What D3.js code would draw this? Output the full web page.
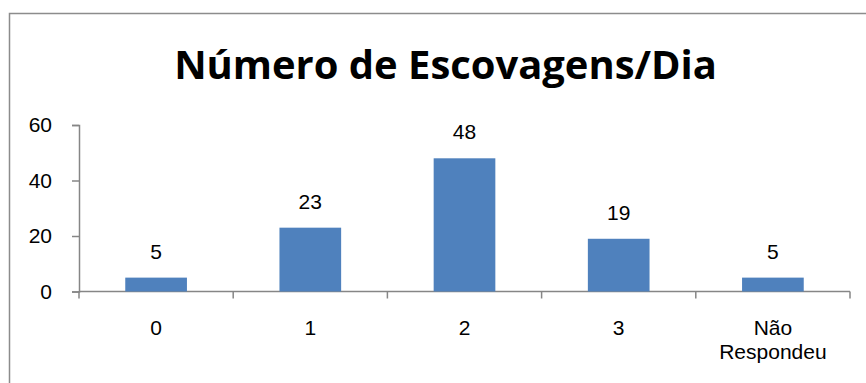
<!DOCTYPE html>
<html>
<head>
<meta charset="utf-8">
<script src="https://cdn.jsdelivr.net/npm/d3@7"></script>
<style>
  html, body { margin: 0; padding: 0; background: #fff; }
  svg { display: block; }
  text { font-family: "Liberation Sans", Arial, sans-serif; fill: #000; }
  text.title { font-family: "Open Sans", "Liberation Sans", sans-serif; }
</style>
</head>
<body>
<svg id="chart" width="866" height="383"></svg>
<script>
// Chart data
const title = "Número de Escovagens/Dia";
const categories = ["0", "1", "2", "3", "Não\nRespondeu"];
const values = [5, 23, 48, 19, 5];
const yTicks = [0, 20, 40, 60];

const W = 866, H = 383;
const plot = { left: 79, right: 850, top: 125, bottom: 291.5 };
const axisColor = "#868686";
const barColor = "#4F81BD";
const labelFont = "'Liberation Sans', Arial, sans-serif";

const svg = d3.select("#chart");

// Outer chart frame (only top and left edges fall inside the view)
svg.append("rect")
  .attr("x", 9.5).attr("y", 13.5)
  .attr("width", W + 20).attr("height", H + 20)
  .attr("fill", "#fff")
  .attr("stroke", "#8c8c8c").attr("stroke-width", 1.5);

// Title, fitted to its measured width
const t = svg.append("text")
  .attr("class", "title")
  .attr("x", (174 + 717) / 2).attr("y", 79)
  .attr("text-anchor", "middle")
  .style("font-weight", "bold")
  .style("font-size", "40px")
  .text(title);
const tw = t.node().getComputedTextLength();
t.style("font-size", (40 * 543 / tw).toFixed(2) + "px");

const x = d3.scaleBand()
  .domain(categories)
  .range([plot.left, plot.right])
  .paddingInner(0.6)
  .paddingOuter(0.3);

const y = d3.scaleLinear()
  .domain([0, 60])
  .range([plot.bottom, plot.top]);

// Y axis
const yAxis = d3.axisLeft(y).tickValues(yTicks).tickSize(7).tickPadding(20);
const gy = svg.append("g").attr("transform", `translate(${plot.left},0)`).call(yAxis);
gy.select(".domain").attr("stroke", axisColor).attr("stroke-width", 1.5);
gy.selectAll(".tick line").attr("stroke", axisColor).attr("stroke-width", 1.5);
gy.selectAll(".tick text")
  .style("font-size", "21px")
  .style("font-family", labelFont)
  .attr("fill", "#000");

// X axis baseline and category separator ticks
const step = x.step();
const boundaries = categories.map(c => x(c) - step * x.paddingInner() / 2);
boundaries.push(plot.right);
svg.append("line")
  .attr("x1", plot.left).attr("x2", plot.right)
  .attr("y1", y(0)).attr("y2", y(0))
  .attr("stroke", axisColor).attr("stroke-width", 1.5);
svg.selectAll("line.xtick").data(boundaries).join("line")
  .attr("class", "xtick")
  .attr("x1", d => d).attr("x2", d => d)
  .attr("y1", y(0)).attr("y2", y(0) + 7)
  .attr("stroke", axisColor).attr("stroke-width", 1.5);

// Category labels, one text element per line
const lineGap = 23.6;
const labelLines = [];
categories.forEach(c => {
  c.split("\n").forEach((l, i) => labelLines.push({ c, l, i }));
});
svg.selectAll("text.xlab").data(labelLines).join("text")
  .attr("class", "xlab")
  .attr("text-anchor", "middle")
  .style("font-size", "21px")
  .attr("x", d => x(d.c) + x.bandwidth() / 2)
  .attr("y", d => 335 + d.i * lineGap)
  .text(d => d.l);

// Bars
const data = categories.map((c, i) => ({ c, v: values[i] }));
svg.selectAll("rect.bar").data(data).join("rect")
  .attr("class", "bar")
  .attr("x", d => x(d.c))
  .attr("width", x.bandwidth())
  .attr("y", d => y(d.v))
  .attr("height", d => y(0) - y(d.v))
  .attr("fill", barColor);

// Value labels
svg.selectAll("text.val").data(data).join("text")
  .attr("class", "val")
  .attr("text-anchor", "middle")
  .style("font-size", "21px")
  .attr("x", d => x(d.c) + x.bandwidth() / 2)
  .attr("y", d => y(d.v) - 19)
  .text(d => d.v);
</script>
</body>
</html>
